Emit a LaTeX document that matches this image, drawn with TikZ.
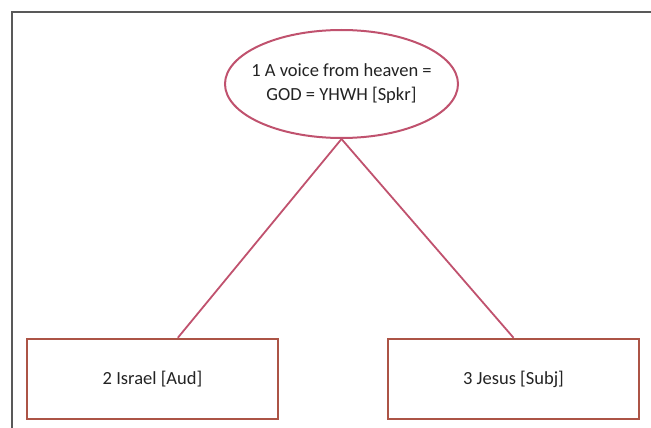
\documentclass[tikz,border=0pt]{standalone}
\usepackage{fontspec}
\setmainfont{Carlito}
\usetikzlibrary{shapes.geometric,calc}
\definecolor{ellcol}{RGB}{192,82,110}
\definecolor{boxcol}{RGB}{172,84,70}
\definecolor{txtcol}{RGB}{35,35,35}
\tikzset{
  ell/.style={draw=ellcol, line width=2pt, ellipse, minimum width=233pt, minimum height=108pt, inner sep=0pt},
  lbl/.style={align=center, inner sep=0pt, font=\fontsize{18.5}{24}\selectfont, text=txtcol},
  rolebox/.style={draw=boxcol, line width=2.5pt, rectangle, minimum width=251pt, minimum height=80pt, inner sep=0pt, font=\fontsize{18.5}{24}\selectfont, text=txtcol},
  link/.style={draw=ellcol, line width=1.8pt}
}
\begin{document}
\begin{tikzpicture}[x=1pt,y=-1pt]
\useasboundingbox (0,0) rectangle (651,428);
\draw[gray!70!black, line width=1.8pt] (12,430) -- (12,12) -- (655,12);
\node[ell] (e) at (341.5,84) {};
\node[lbl] (et) at (e.center) {1 A voice from heaven =\\GOD = YHWH [Spkr]};
\node[rolebox] (a) at (152.5,379) {2 Israel [Aud]};
\node[rolebox] (b) at (513.5,379) {3 Jesus [Subj]};
\draw[link] (e.south) -- ($(a.north west)!0.6!(a.north east)$);
\draw[link] (e.south) -- (b.north);
\end{tikzpicture}
\end{document}
